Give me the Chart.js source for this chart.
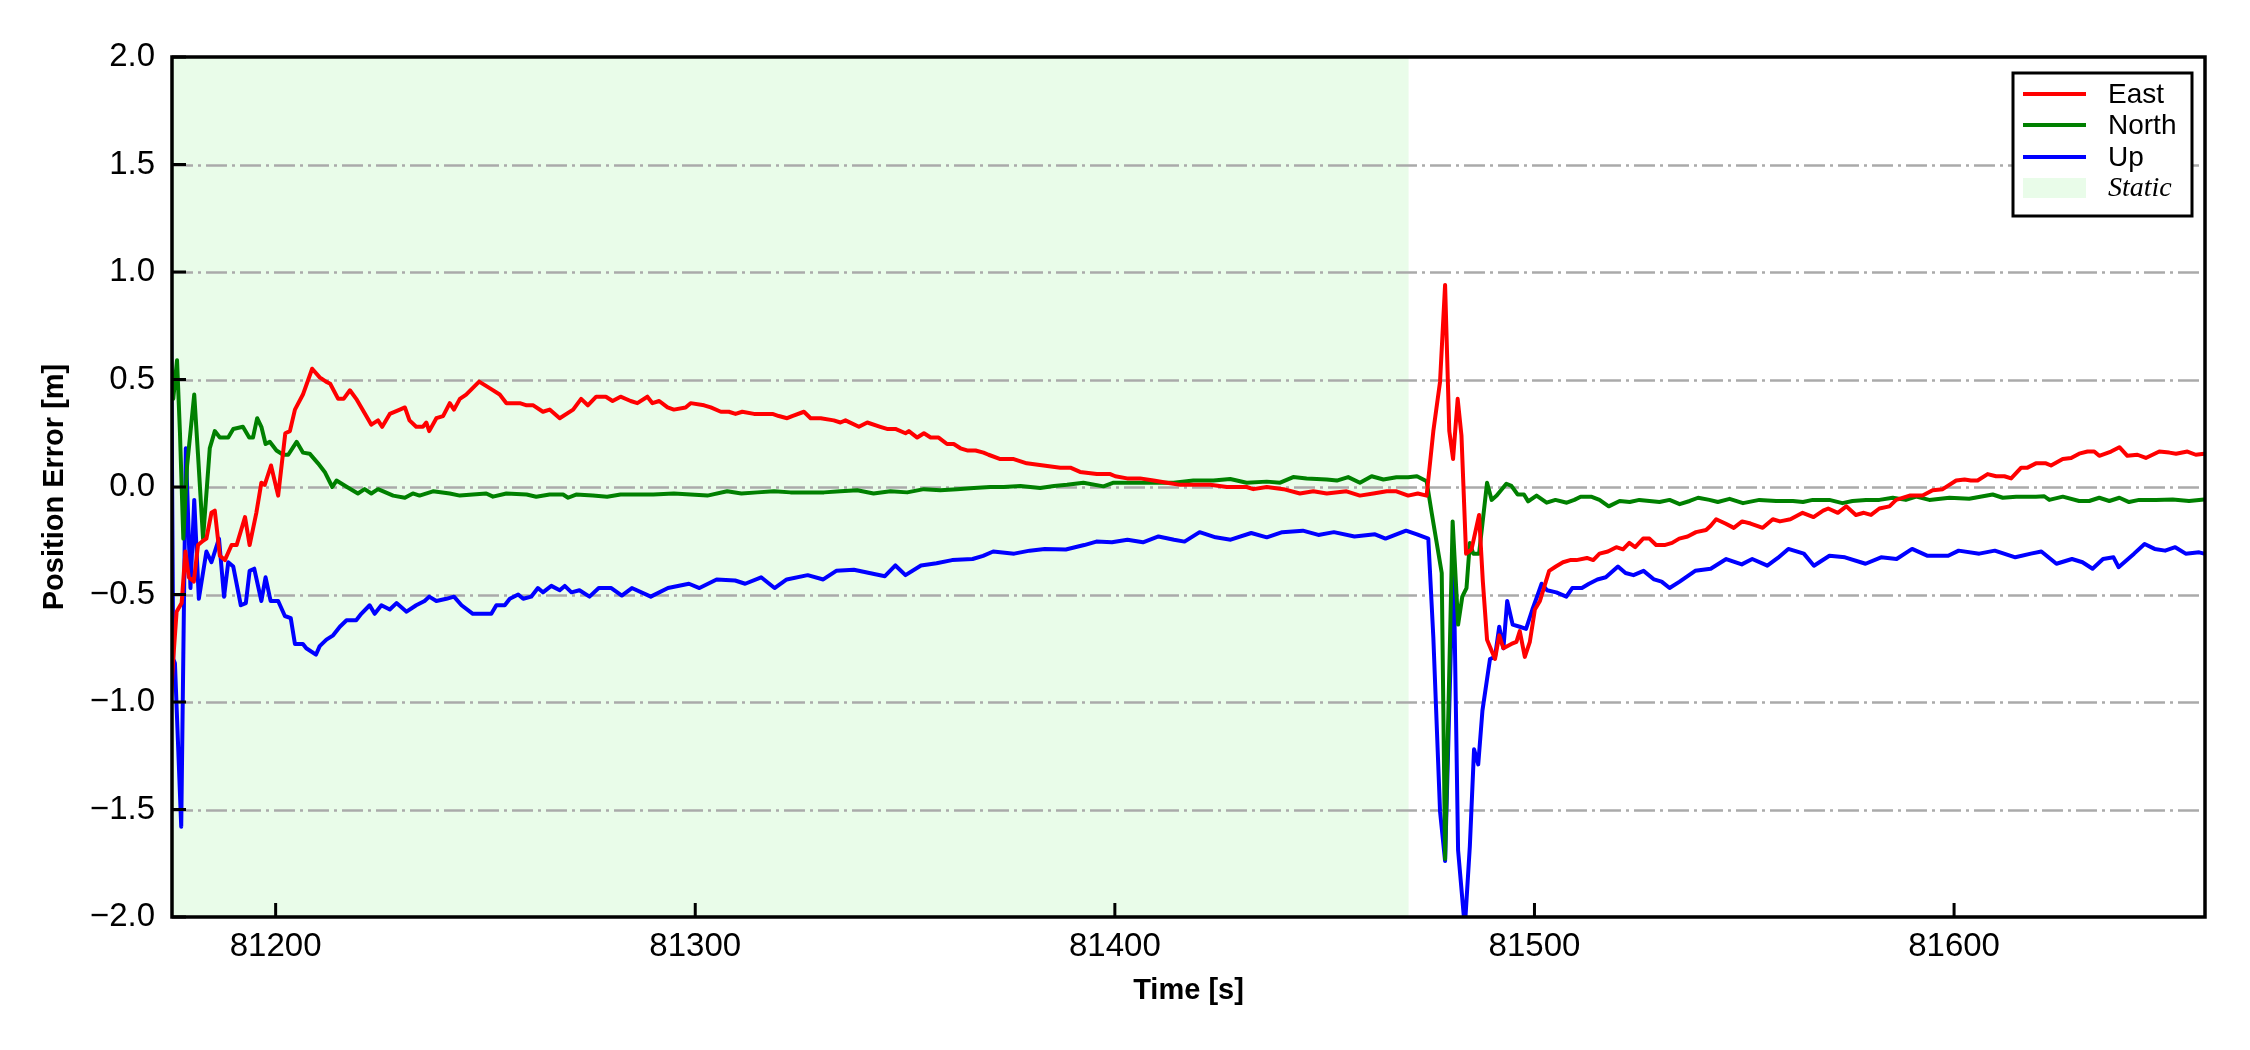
<!DOCTYPE html>
<html>
<head>
<meta charset="utf-8">
<script src="https://cdn.jsdelivr.net/npm/chart.js@4.4.1/dist/chart.umd.min.js"></script>
<style>
html,body{margin:0;padding:0;background:#ffffff;}
#wrap{width:2250px;height:1050px;}
</style>
</head>
<body>
<div id="wrap"><canvas id="c" width="2250" height="1050"></canvas></div>
<script>
// ---------------- DATA ----------------
const seriesNames = ['East', 'North', 'Up'];
const staticLabel = 'Static';
const xTitle = 'Time [s]';
const yTitle = 'Position Error [m]';
const xMin = 81175.3, xMax = 81659.8;
const staticStart = 81175.3, staticEnd = 81470;
const xTicks = [81200, 81300, 81400, 81500, 81600];
const yTicks = [-2.0, -1.5, -1.0, -0.5, 0.0, 0.5, 1.0, 1.5, 2.0];

const eastT = [81175.0,81175.6,81176.4,81177.6,81178.5,81179.3,81180.5,81181.5,81182.7,81183.5,81184.7,81185.5,81186.7,81187.9,81189.5,81190.7,81192.7,81193.8,81195.4,81196.6,81197.4,81198.9,81200.6,81202.3,81203.4,81204.6,81206.5,81208.7,81210.5,81212.0,81213.0,81214.9,81216.2,81217.7,81219.2,81221.6,81222.8,81224.4,81225.4,81227.2,81229.6,81230.8,81231.9,81233.5,81235.1,81235.9,81236.6,81238.3,81239.9,81241.5,81242.5,81243.9,81245.4,81248.5,81251.0,81253.4,81255.0,81258.2,81259.8,81261.4,81263.7,81265.3,81267.7,81270.9,81272.8,81274.4,81276.4,81278.7,81280.3,81282.2,81284.6,81286.2,81288.6,81289.8,81291.4,81293.4,81294.9,81297.7,81298.9,81302.1,81303.7,81306.1,81308.0,81309.6,81311.2,81314.0,81316.4,81318.4,81319.9,81321.9,81323.1,81325.9,81327.5,81329.9,81333.0,81334.6,81335.8,81339.0,81341.0,81344.1,81345.7,81347.7,81350.1,81350.9,81352.9,81354.5,81356.1,81358.0,81360.0,81361.6,81363.2,81364.8,81366.8,81368.7,81369.9,81372.7,81375.9,81379.0,81383.0,81387.0,81389.4,81391.7,81395.7,81398.9,81400.1,81402.9,81406.0,81409.2,81412.4,81415.6,81419.5,81422.7,81426.7,81431.4,81433.0,81436.2,81440.2,81444.1,81447.3,81450.5,81455.2,81458.4,81461.6,81464.8,81467.1,81469.9,81472.2,81474.3,81475.9,81477.5,81478.7,81479.7,81480.6,81481.7,81482.6,81483.7,81485.0,81486.8,81487.7,81488.7,81490.6,81491.6,81492.6,81494.5,81495.7,81496.5,81497.7,81498.9,81500.1,81501.3,81503.5,81505.1,81506.8,81508.5,81510.0,81512.5,81514.0,81515.5,81517.5,81519.5,81521.1,81522.6,81524.0,81525.9,81527.4,81529.0,81531.0,81532.8,81534.5,81536.5,81538.5,81540.9,81542.0,81543.3,81545.5,81547.5,81549.5,81551.5,81554.4,81556.8,81558.5,81561.0,81563.9,81566.5,81568.8,81570.0,81572.3,81574.3,81576.6,81578.5,81580.2,81582.2,81584.6,81586.2,81589.4,81592.5,81594.9,81597.3,81600.5,81602.5,81604.0,81605.6,81608.0,81610.0,81612.0,81613.6,81616.0,81617.5,81619.5,81621.9,81623.1,81625.9,81627.9,81629.8,81631.8,81633.4,81634.6,81637.4,81639.4,81641.3,81643.7,81645.7,81648.9,81651.3,81652.9,81655.6,81657.6,81659.6];
const eastV = [-1.00,-0.80,-0.58,-0.54,-0.30,-0.42,-0.44,-0.27,-0.25,-0.24,-0.12,-0.11,-0.32,-0.34,-0.27,-0.27,-0.14,-0.27,-0.12,0.02,0.01,0.10,-0.04,0.25,0.26,0.36,0.43,0.55,0.51,0.49,0.48,0.41,0.41,0.45,0.41,0.33,0.29,0.31,0.28,0.34,0.36,0.37,0.31,0.28,0.28,0.30,0.26,0.32,0.33,0.39,0.36,0.41,0.43,0.49,0.46,0.43,0.39,0.39,0.38,0.38,0.35,0.36,0.32,0.36,0.41,0.38,0.42,0.42,0.40,0.42,0.40,0.39,0.42,0.39,0.40,0.37,0.36,0.37,0.39,0.38,0.37,0.35,0.35,0.34,0.35,0.34,0.34,0.34,0.33,0.32,0.33,0.35,0.32,0.32,0.31,0.30,0.31,0.28,0.30,0.28,0.27,0.27,0.25,0.26,0.23,0.25,0.23,0.23,0.20,0.20,0.18,0.17,0.17,0.16,0.15,0.13,0.13,0.11,0.10,0.09,0.09,0.07,0.06,0.06,0.05,0.04,0.04,0.03,0.02,0.01,0.01,0.01,0.00,0.00,-0.01,0.00,-0.01,-0.03,-0.02,-0.03,-0.02,-0.04,-0.03,-0.02,-0.02,-0.04,-0.03,-0.04,0.26,0.49,0.94,0.26,0.13,0.41,0.24,-0.31,-0.29,-0.13,-0.44,-0.71,-0.80,-0.69,-0.75,-0.73,-0.72,-0.67,-0.79,-0.72,-0.57,-0.53,-0.39,-0.37,-0.35,-0.34,-0.34,-0.33,-0.34,-0.31,-0.30,-0.28,-0.29,-0.26,-0.28,-0.24,-0.24,-0.27,-0.27,-0.26,-0.24,-0.23,-0.21,-0.20,-0.18,-0.15,-0.17,-0.19,-0.16,-0.17,-0.19,-0.15,-0.16,-0.15,-0.12,-0.14,-0.11,-0.10,-0.12,-0.09,-0.13,-0.12,-0.13,-0.10,-0.09,-0.06,-0.04,-0.04,-0.015,-0.01,0.03,0.035,0.03,0.03,0.06,0.05,0.05,0.04,0.09,0.09,0.11,0.11,0.10,0.13,0.135,0.155,0.165,0.165,0.145,0.165,0.185,0.145,0.15,0.135,0.165,0.16,0.155,0.165,0.15,0.155];

const northT = [81175.0,81175.6,81176.5,81177.2,81178.0,81178.9,81180.6,81181.5,81182.7,81184.3,81185.5,81186.7,81188.7,81189.9,81192.2,81193.7,81194.6,81195.6,81196.6,81197.6,81198.6,81200.2,81201.8,81203.0,81205.0,81206.5,81208.1,81210.1,81211.7,81213.5,81214.5,81217.0,81219.6,81221.2,81222.8,81224.4,81228.0,81230.8,81232.7,81234.3,81237.5,81241.5,81243.9,81247.0,81250.2,81251.8,81255.0,81259.8,81262.1,81265.3,81268.5,81269.7,81271.6,81275.6,81279.0,81282.2,81286.0,81290.0,81294.9,81298.9,81302.9,81307.6,81311.0,81314.8,81318.8,81322.7,81326.7,81330.7,81334.6,81338.6,81342.5,81346.5,81350.5,81354.5,81358.4,81362.4,81366.4,81370.3,81373.5,81377.5,81382.2,81385.5,81388.6,81392.5,81397.3,81399.7,81404.5,81409.2,81414.0,81418.7,81423.5,81427.5,81431.4,81436.2,81439.4,81442.5,81445.7,81450.5,81452.9,81455.6,81458.4,81461.2,81464.0,81467.1,81469.9,81472.0,81474.3,81475.5,81477.9,81478.7,81480.5,81481.8,81482.8,81483.8,81484.6,81485.4,81486.8,81488.7,81489.8,81491.0,81493.3,81494.5,81496.0,81497.5,81498.5,81500.5,81502.9,81505.0,81507.7,81509.5,81511.0,81513.5,81515.5,81517.7,81520.3,81522.7,81525.0,81527.4,81529.8,81532.2,81534.6,81537.0,81539.0,81541.7,81543.7,81546.5,81549.7,81553.6,81557.6,81561.6,81564.0,81566.3,81570.3,81573.4,81575.8,81579.0,81582.2,81585.4,81588.5,81591.0,81594.1,81598.9,81603.6,81609.2,81611.6,81614.8,81619.5,81621.5,81622.7,81625.9,81629.8,81632.2,81634.6,81637.0,81639.4,81641.7,81644.1,81648.1,81652.1,81656.0,81659.6];
const northV = [0.62,0.41,0.59,0.25,-0.24,0.10,0.43,0.15,-0.24,0.18,0.26,0.23,0.23,0.27,0.28,0.23,0.23,0.32,0.28,0.20,0.21,0.17,0.15,0.15,0.21,0.16,0.155,0.11,0.07,0.00,0.03,0.00,-0.03,-0.01,-0.03,-0.01,-0.04,-0.05,-0.03,-0.04,-0.02,-0.03,-0.04,-0.035,-0.03,-0.045,-0.03,-0.035,-0.045,-0.035,-0.035,-0.05,-0.035,-0.04,-0.045,-0.035,-0.035,-0.035,-0.03,-0.035,-0.04,-0.02,-0.03,-0.025,-0.02,-0.025,-0.025,-0.025,-0.02,-0.015,-0.03,-0.02,-0.025,-0.01,-0.015,-0.01,-0.005,0.0,0.0,0.005,-0.005,0.005,0.01,0.02,0.003,0.02,0.02,0.02,0.02,0.03,0.03,0.037,0.02,0.025,0.02,0.046,0.04,0.035,0.03,0.046,0.02,0.05,0.035,0.045,0.045,0.05,0.027,-0.12,-0.40,-1.73,-0.16,-0.64,-0.51,-0.47,-0.26,-0.31,-0.31,0.02,-0.06,-0.04,0.015,0.005,-0.035,-0.035,-0.067,-0.04,-0.073,-0.06,-0.073,-0.06,-0.045,-0.045,-0.06,-0.09,-0.065,-0.07,-0.06,-0.065,-0.07,-0.06,-0.08,-0.065,-0.05,-0.06,-0.07,-0.055,-0.075,-0.06,-0.065,-0.065,-0.07,-0.06,-0.06,-0.075,-0.065,-0.06,-0.06,-0.05,-0.06,-0.045,-0.06,-0.05,-0.055,-0.035,-0.05,-0.045,-0.045,-0.043,-0.06,-0.045,-0.065,-0.065,-0.05,-0.065,-0.05,-0.07,-0.06,-0.06,-0.058,-0.065,-0.058];

const upT = [81175.0,81175.6,81176.0,81177.5,81178.6,81179.7,81180.6,81181.7,81183.5,81184.7,81186.5,81187.7,81188.7,81189.9,81191.7,81192.9,81193.8,81194.9,81196.6,81197.6,81198.8,81200.6,81202.2,81203.6,81204.6,81206.5,81207.3,81209.6,81210.5,81212.1,81213.7,81215.3,81216.9,81219.2,81220.4,81222.4,81223.6,81225.2,81227.2,81228.8,81231.2,81233.5,81235.5,81236.6,81238.3,81240.7,81242.5,81244.3,81247.0,81249.4,81251.4,81252.6,81254.6,81255.8,81257.8,81259.0,81260.9,81262.5,81263.7,81265.7,81267.7,81268.9,81270.5,81272.4,81274.8,81277.0,81280.0,81282.5,81284.9,81289.4,81293.5,81298.5,81301.0,81305.1,81309.5,81311.9,81315.7,81318.9,81321.8,81326.8,81330.5,81333.6,81337.8,81341.5,81345.2,81347.7,81350.1,81353.8,81357.5,81361.2,81366.1,81368.6,81371.0,81376.0,81379.7,81383.3,81388.3,81392.7,81395.6,81399.3,81403.0,81406.7,81410.4,81414.1,81416.6,81420.2,81424.0,81427.6,81432.5,81436.2,81439.9,81444.8,81448.5,81452.2,81457.1,81462.0,81464.5,81469.4,81472.0,81474.7,81475.9,81477.5,81478.7,81480.7,81481.8,81483.4,81484.6,81485.6,81486.6,81487.6,81489.4,81490.6,81491.6,81492.6,81493.5,81494.8,81496.5,81498.0,81499.5,81500.8,81501.7,81503.0,81505.2,81507.6,81509.0,81511.3,81513.0,81515.0,81517.0,81519.9,81521.7,81523.6,81526.0,81528.5,81530.3,81532.2,81534.6,81538.3,81542.0,81545.7,81549.4,81551.9,81555.5,81558.0,81560.5,81564.2,81566.6,81570.3,81574.0,81578.9,81582.6,81586.3,81590.0,81593.7,81598.6,81601.1,81606.0,81609.7,81614.6,81618.3,81620.8,81624.4,81628.1,81630.6,81633.0,81635.5,81638.0,81639.2,81642.9,81645.4,81647.8,81650.3,81652.7,81655.2,81658.4,81659.6];
const upV = [1.00,-0.80,-0.82,-1.58,0.18,-0.47,-0.06,-0.52,-0.30,-0.35,-0.24,-0.51,-0.35,-0.37,-0.55,-0.54,-0.39,-0.38,-0.53,-0.42,-0.53,-0.53,-0.60,-0.61,-0.73,-0.73,-0.75,-0.78,-0.74,-0.71,-0.69,-0.65,-0.62,-0.62,-0.59,-0.55,-0.59,-0.55,-0.57,-0.54,-0.58,-0.55,-0.53,-0.51,-0.53,-0.52,-0.51,-0.55,-0.59,-0.59,-0.59,-0.55,-0.55,-0.52,-0.50,-0.52,-0.51,-0.47,-0.49,-0.46,-0.48,-0.46,-0.49,-0.48,-0.51,-0.47,-0.47,-0.505,-0.47,-0.51,-0.47,-0.45,-0.47,-0.43,-0.435,-0.45,-0.42,-0.47,-0.43,-0.41,-0.43,-0.39,-0.385,-0.40,-0.415,-0.365,-0.41,-0.365,-0.355,-0.34,-0.335,-0.32,-0.30,-0.31,-0.296,-0.288,-0.291,-0.27,-0.254,-0.257,-0.245,-0.257,-0.23,-0.245,-0.254,-0.21,-0.234,-0.245,-0.214,-0.234,-0.21,-0.203,-0.223,-0.21,-0.23,-0.22,-0.24,-0.203,-0.22,-0.24,-0.70,-1.51,-1.74,-0.31,-1.69,-2.05,-1.67,-1.22,-1.29,-1.04,-0.80,-0.79,-0.65,-0.75,-0.53,-0.64,-0.65,-0.66,-0.57,-0.50,-0.45,-0.48,-0.49,-0.51,-0.47,-0.47,-0.45,-0.43,-0.42,-0.37,-0.40,-0.41,-0.39,-0.43,-0.44,-0.47,-0.44,-0.39,-0.38,-0.335,-0.36,-0.335,-0.366,-0.33,-0.288,-0.31,-0.366,-0.32,-0.327,-0.357,-0.327,-0.335,-0.288,-0.32,-0.32,-0.296,-0.31,-0.296,-0.327,-0.31,-0.30,-0.357,-0.335,-0.35,-0.38,-0.335,-0.327,-0.373,-0.31,-0.265,-0.288,-0.296,-0.28,-0.31,-0.304,-0.31];

// ---------------- STYLE ----------------
const seriesColors = ['#ff0000', '#008000', '#0000ff'];
const staticColor = '#e9fce9';
const SANS = '"Liberation Sans", Arial, Helvetica, sans-serif';
const SERIF = '"Liberation Serif", "Times New Roman", serif';

const toPts = (t, v) => t.map((x, i) => ({x: x, y: v[i]}));
const seriesData = [toPts(eastT, eastV), toPts(northT, northV), toPts(upT, upV)];

const fmtY = v => (v < 0 ? '\u2212' : '') + Math.abs(v).toFixed(1);

const framePlugin = {
  id: 'frame',
  beforeDraw(chart) {
    const {ctx, chartArea: a, scales: {x}} = chart;
    ctx.save();
    ctx.fillStyle = '#ffffff';
    ctx.fillRect(0, 0, chart.width, chart.height);
    const x0 = Math.max(a.left, x.getPixelForValue(staticStart));
    const x1 = Math.min(a.right, x.getPixelForValue(staticEnd));
    ctx.fillStyle = staticColor;
    ctx.fillRect(x0, a.top, x1 - x0, a.bottom - a.top);
    ctx.restore();
  },
  beforeDatasetsDraw(chart) {
    const {ctx, chartArea: a, scales: {y}} = chart;
    ctx.save();
    ctx.strokeStyle = '#aaaaaa';
    ctx.lineWidth = 2.5;
    ctx.setLineDash([21, 5, 3, 5]);
    yTicks.forEach(v => {
      if (v <= -2 || v >= 2) return;
      const py = Math.round(y.getPixelForValue(v)) + 0.5;
      ctx.beginPath();
      ctx.moveTo(a.left, py);
      ctx.lineTo(a.right, py);
      ctx.stroke();
    });
    ctx.restore();
  },
  afterDatasetsDraw(chart) {
    const {ctx, chartArea: a, scales: {x, y}} = chart;
    ctx.save();
    // inward ticks
    ctx.strokeStyle = '#000';
    ctx.lineWidth = 3;
    yTicks.forEach(v => {
      const py = y.getPixelForValue(v);
      ctx.beginPath(); ctx.moveTo(a.left, py); ctx.lineTo(a.left + 14, py); ctx.stroke();
    });
    xTicks.forEach(v => {
      const px = x.getPixelForValue(v);
      ctx.beginPath(); ctx.moveTo(px, a.bottom); ctx.lineTo(px, a.bottom - 14); ctx.stroke();
    });
    // frame
    ctx.lineWidth = 3.5;
    ctx.strokeRect(a.left, a.top, a.right - a.left, a.bottom - a.top);
    // legend
    const bw = 179, bh = 143;
    const bx = a.right - 13 - bw, by = a.top + 16;
    ctx.fillStyle = '#ffffff';
    ctx.fillRect(bx, by, bw, bh);
    ctx.lineWidth = 3;
    ctx.strokeStyle = '#000';
    ctx.strokeRect(bx, by, bw, bh);
    const rows = [21, 52, 84, 115];
    chart.data.datasets.forEach((ds, i) => {
      const ry = by + rows[i];
      ctx.strokeStyle = ds.borderColor;
      ctx.lineWidth = 4;
      ctx.beginPath(); ctx.moveTo(bx + 10, ry); ctx.lineTo(bx + 73, ry); ctx.stroke();
      ctx.fillStyle = '#000';
      ctx.font = '28px ' + SANS;
      ctx.textBaseline = 'middle';
      ctx.textAlign = 'left';
      ctx.fillText(ds.label, bx + 95, ry + 1);
    });
    const sy = by + rows[3];
    ctx.fillStyle = staticColor;
    ctx.fillRect(bx + 10, sy - 10, 63, 20);
    ctx.fillStyle = '#000';
    ctx.font = 'italic 28px ' + SERIF;
    ctx.textBaseline = 'middle';
    ctx.fillText(staticLabel, bx + 95, sy + 1);
    ctx.restore();
  }
};

new Chart(document.getElementById('c'), {
  type: 'line',
  data: {
    datasets: seriesNames.map((n, i) => ({
      label: n,
      data: seriesData[i],
      borderColor: seriesColors[i],
      backgroundColor: seriesColors[i],
      borderWidth: 4,
      borderJoinStyle: 'round',
      borderCapStyle: 'round',
      pointRadius: 0,
      tension: 0,
      fill: false
    }))
  },
  options: {
    responsive: false,
    animation: false,
    devicePixelRatio: 1,
    layout: {padding: {top: 57, right: 45, left: 0, bottom: 0}},
    plugins: {legend: {display: false}, tooltip: {enabled: false}},
    scales: {
      x: {
        type: 'linear',
        min: xMin, max: xMax,
        afterFit(s) { s.height = 133; },
        afterBuildTicks(s) { s.ticks = xTicks.map(v => ({value: v})); },
        grid: {display: false, drawTicks: false},
        border: {display: false},
        ticks: {
          font: {family: SANS, size: 33}, color: '#000', padding: 10,
          maxRotation: 0, autoSkip: false, callback: v => String(v)
        },
        title: {
          display: true, text: xTitle, color: '#000',
          font: {family: SANS, size: 29, weight: 'bold'},
          padding: {top: 0, bottom: 42}
        }
      },
      y: {
        type: 'linear',
        min: -2, max: 2,
        afterFit(s) { s.width = 172; },
        afterBuildTicks(s) { s.ticks = yTicks.map(v => ({value: v})); },
        grid: {display: false, drawTicks: false},
        border: {display: false},
        ticks: {
          font: {family: SANS, size: 33}, color: '#000', padding: 17,
          autoSkip: false, callback: v => fmtY(v)
        },
        title: {
          display: true, text: yTitle, color: '#000',
          font: {family: SANS, size: 29, weight: 'bold'},
          padding: {top: 38, bottom: 0}
        }
      }
    }
  },
  plugins: [framePlugin]
});
</script>
</body>
</html>
